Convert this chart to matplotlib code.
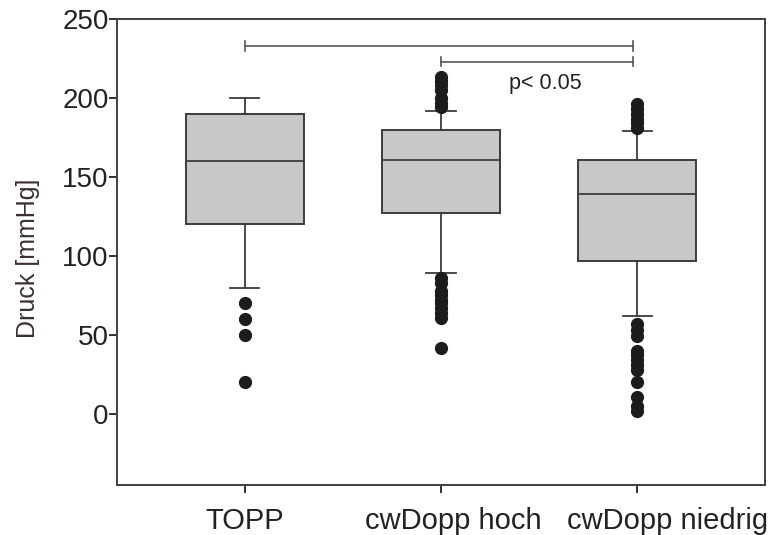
import numpy as np
import matplotlib
matplotlib.use("Agg")
import matplotlib.pyplot as plt
from matplotlib.transforms import ScaledTranslation

plt.rcParams['font.family'] = ['Liberation Sans', 'DejaVu Sans']

groups = ["TOPP", "cwDopp hoch", "cwDopp niedrig"]
q1 = [120, 127, 97]
med = [160, 161, 139]
q3 = [190, 180, 161]
whislo = [80, 89, 62]
whishi = [200, 192, 179]
fliers = [
    [70, 60, 50, 20],
    [213, 211, 208, 205, 200, 197, 194,
     86, 83, 78, 75, 72, 70, 67, 64, 61, 42],
    [196, 193, 190, 187, 184, 181,
     57, 53, 49, 40, 37, 34, 31, 28, 20, 11, 5, 2],
]

# significance brackets: (from group, to group, height)
brackets = [(1, 3, 233), (2, 3, 223)]
p_text = "p< 0.05"

stats = []
for i, name in enumerate(groups):
    stats.append(dict(label=name, q1=q1[i], med=med[i], q3=q3[i],
                      whislo=whislo[i], whishi=whishi[i], fliers=fliers[i]))

edge = "#3c3c3c"
fig = plt.figure(figsize=(7.71, 5.35), dpi=100)
ax = fig.add_axes([0.1518, 0.0935, 0.8404, 0.871])

ax.bxp(stats, positions=[1, 2, 3], widths=0.6, patch_artist=True,
       boxprops=dict(facecolor="#c8c8ca", edgecolor=edge, linewidth=1.4),
       medianprops=dict(color=edge, linewidth=1.3),
       whiskerprops=dict(color=edge, linewidth=1.3),
       capprops=dict(color=edge, linewidth=1.3),
       capwidths=0.15,
       flierprops=dict(marker="o", markerfacecolor="#1c1c1c",
                       markeredgecolor="#1c1c1c", markersize=8.5))

for a, b, h in brackets:
    ax.plot([a, b - 0.02], [h, h], color="#555555", lw=1.2)
    for x in (a, b - 0.02):
        ax.plot([x, x], [h - 3, h + 3], color="#555555", lw=1.2)
ax.text(2.53, 209, p_text, ha="center", va="center", fontsize=15.5, color="#222222")

ax.set_xlim(0.35, 3.65)
ax.set_ylim(-45, 250)
ax.set_yticks([0, 50, 100, 150, 200, 250])
ax.set_xticks([1, 2, 3])
ax.set_xticklabels(groups)
ax.tick_params(axis="both", labelsize=20, colors="#222222", width=1.3,
               length=6, direction="out")
ax.tick_params(axis="y", pad=0)
ax.tick_params(axis="x", pad=10, labelsize=21)

# the longer category names sit a bit right of their ticks
for lab, dx in zip(ax.get_xticklabels(), [0, 12, 30]):
    lab.set_transform(lab.get_transform() + ScaledTranslation(dx / 100, 0, fig.dpi_scale_trans))

for s in ax.spines.values():
    s.set_color("#404040")
    s.set_linewidth(1.4)
ax.set_ylabel("Druck [mmHg]", fontsize=18, color="#3a3030")
ax.yaxis.set_label_coords(-0.119, 0.487)

fig.savefig("out.png", dpi=100)
